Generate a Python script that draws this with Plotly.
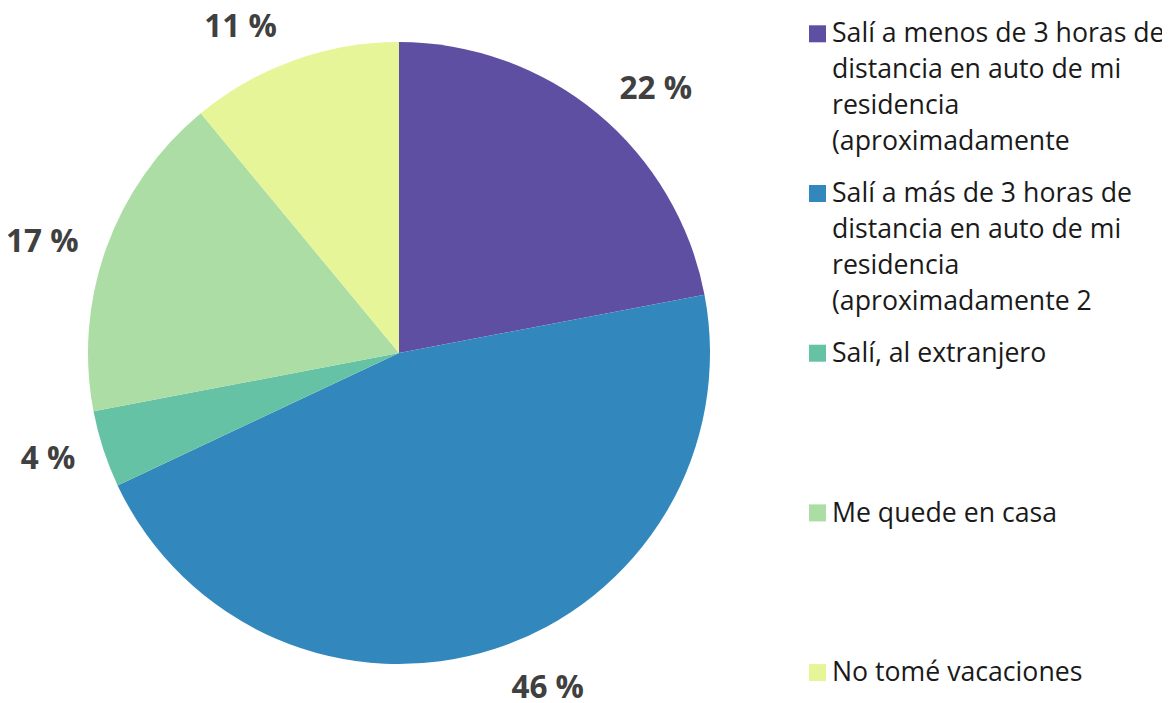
import plotly.graph_objects as go

categories = [
    "Salí a menos de 3 horas de<br>distancia en auto de mi<br>residencia<br>(aproximadamente",
    "Salí a más de 3 horas de<br>distancia en auto de mi<br>residencia<br>(aproximadamente 2",
    "Salí, al extranjero",
    "Me quede en casa",
    "No tomé vacaciones",
]
values = [22, 46, 4, 17, 11]
colors = ["#5e4fa2", "#3288bd", "#66c2a5", "#abdda4", "#e6f598"]

# the page body has an 8 px default margin: figure sized so it fits the 1170x703 window
OFF = 8
W, H = 1170 - OFF, 703 - OFF

# target positions in window pixels
CX, CY, R = 399, 353, 311      # visible pie centre / radius
R_LABEL = 329                  # radius of the transparent ring carrying the labels


def px(x):
    return (x - OFF) / W


def py(y):
    return 1 - (y - OFF) / H


def dom(cx, cy, r):
    return dict(x=[px(cx - r), px(cx + r)], y=[py(cy + r), py(cy - r)])


fig = go.Figure()

# transparent ring: only used so that Plotly places the outside labels a bit farther out
fig.add_trace(
    go.Pie(
        labels=categories,
        values=values,
        sort=False,
        direction="clockwise",
        rotation=0,
        domain=dom(CX, CY, R_LABEL),
        marker=dict(colors=["rgba(0,0,0,0)"] * len(values), line=dict(width=0)),
        texttemplate="%{value} %",
        textposition="outside",
        textfont=dict(family="Open Sans", size=31.5, color="#404040", weight="bold"),
        hoverinfo="skip",
        showlegend=False,
        automargin=False,
    )
)

# visible pie
fig.add_trace(
    go.Pie(
        labels=categories,
        values=values,
        sort=False,
        direction="clockwise",
        rotation=0,
        domain=dom(CX, CY, R),
        marker=dict(colors=colors, line=dict(width=0)),
        textinfo="none",
        hoverinfo="label+value",
        showlegend=False,
        automargin=False,
    )
)

# legend drawn beside the pie
LEG_X_BOX = 809
LEG_BOX = 17
LEG_X_TEXT = 830
BASE0 = 42.3
ITEM_STEP = 159.7
LINE_STEP = 35.8
FONT = 26.67

shapes = []
annotations = []
for i, (cat, col) in enumerate(zip(categories, colors)):
    base = BASE0 + i * ITEM_STEP
    shapes.append(
        dict(
            type="rect", xref="paper", yref="paper",
            x0=px(LEG_X_BOX), x1=px(LEG_X_BOX + LEG_BOX),
            y0=py(base), y1=py(base - LEG_BOX),
            fillcolor=col, line=dict(width=0),
        )
    )
    for j, line in enumerate(cat.split("<br>")):
        b = base + j * LINE_STEP
        annotations.append(
            dict(
                xref="paper", yref="paper",
                x=px(LEG_X_TEXT), y=py(b - 10.4),
                xanchor="left", yanchor="middle",
                text=line, showarrow=False, align="left",
                font=dict(family="Open Sans", size=FONT, color="#1a1a1a"),
            )
        )

fig.update_layout(
    width=W,
    height=H,
    autosize=False,
    paper_bgcolor="white",
    plot_bgcolor="white",
    margin=dict(l=0, r=0, t=0, b=0, pad=0, autoexpand=False),
    showlegend=False,
    shapes=shapes,
    annotations=annotations,
)

fig.write_html("out.html")
